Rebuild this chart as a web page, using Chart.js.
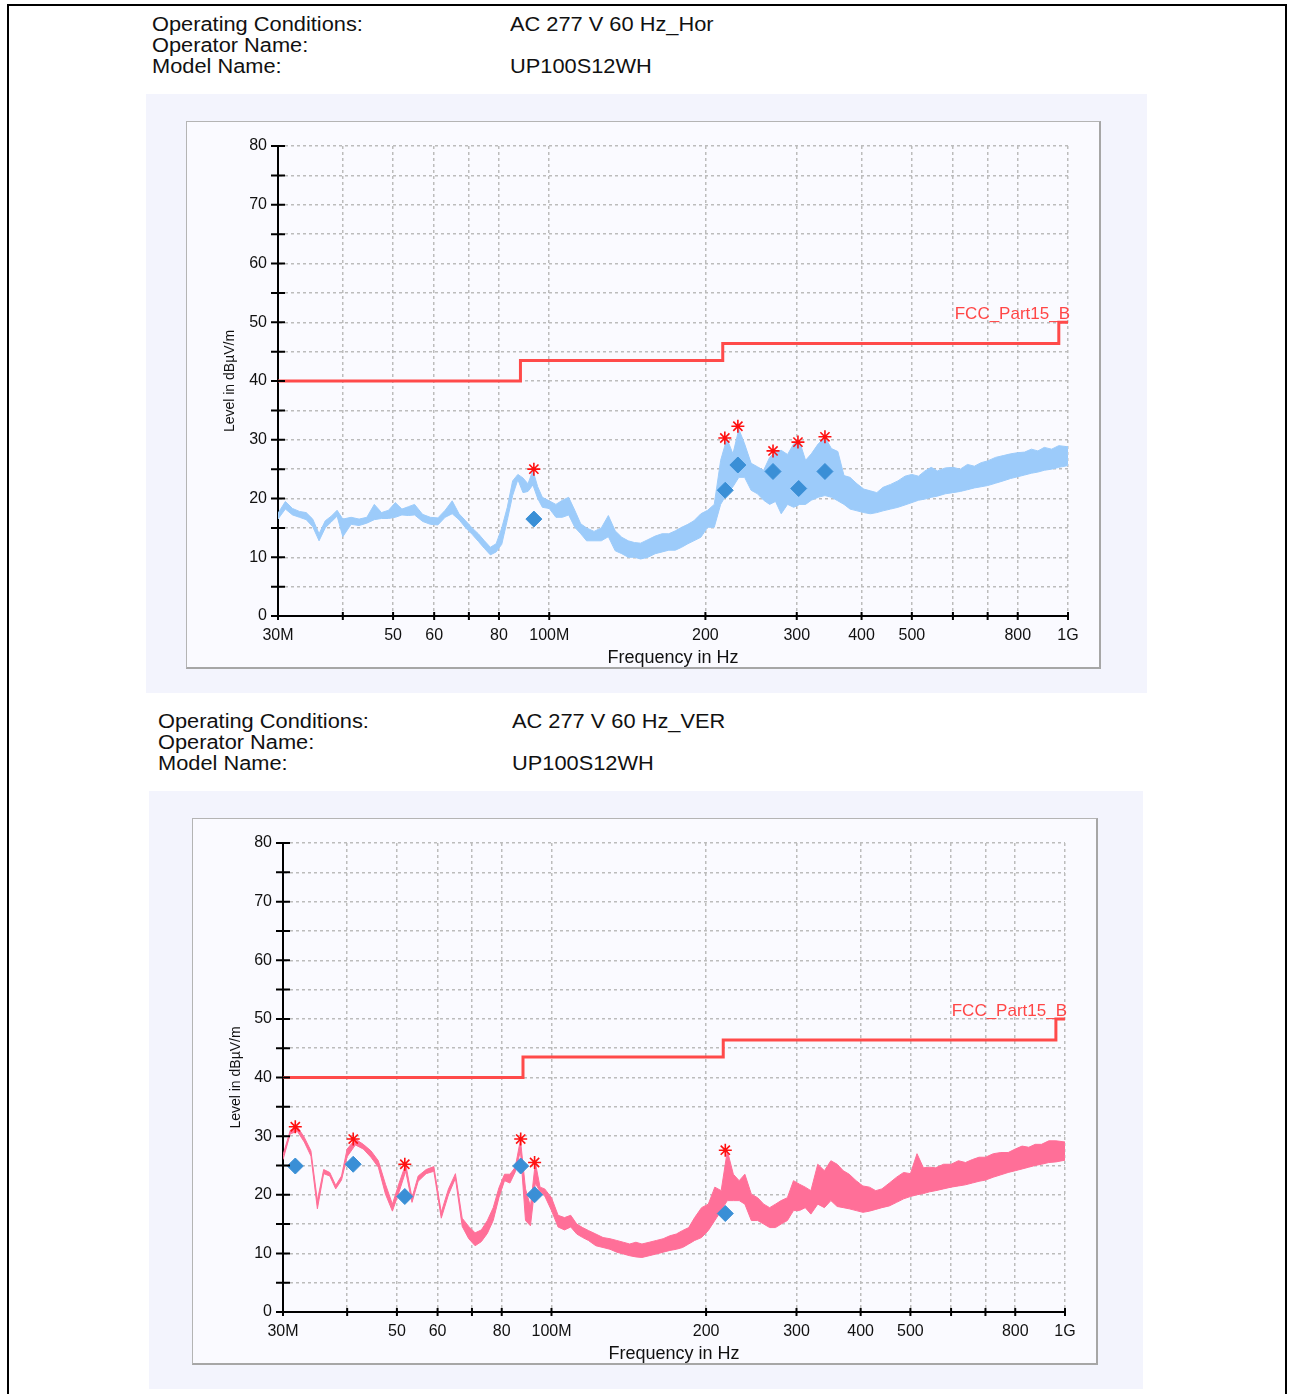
<!DOCTYPE html>
<html>
<head>
<meta charset="utf-8">
<script src="https://cdn.jsdelivr.net/npm/chart.js@4.4.1/dist/chart.umd.min.js"></script>
<style>
  body { margin:0; background:#fff; width:1289px; height:1394px; position:relative; overflow:hidden; font-family:"Liberation Sans", Arial, sans-serif; }
  .frame { position:absolute; left:7px; top:4px; width:1276px; height:1400px; border:2px solid #000; border-bottom:none; }
  .hdr { position:absolute; font-size:20px; line-height:21px; color:#111; transform:scaleX(1.09); transform-origin:left top; white-space:nowrap; }
  .panel { position:absolute; background:#f3f4fd; }
  .box { position:absolute; box-sizing:border-box; background:#fafaff; border:1px solid #b4b4b4; border-right:2px solid #a6a6a6; border-bottom:2px solid #a6a6a6; }
  canvas { position:absolute; }
</style>
</head>
<body>
<div class="frame"></div>

<div class="hdr" style="left:152px;top:14px">Operating Conditions:<br>Operator Name:<br>Model Name:</div>
<div class="hdr" style="left:510px;top:14px">AC 277 V 60 Hz_Hor<br><br>UP100S12WH</div>
<div class="panel" style="left:146px;top:94px;width:1001px;height:599px"></div>
<div class="box" style="left:186px;top:121px;width:915px;height:548px"></div>
<canvas id="hor" width="912" height="545" style="left:187px;top:122px"></canvas>

<div class="hdr" style="left:158px;top:711px">Operating Conditions:<br>Operator Name:<br>Model Name:</div>
<div class="hdr" style="left:512px;top:711px">AC 277 V 60 Hz_VER<br><br>UP100S12WH</div>
<div class="panel" style="left:149px;top:791px;width:994px;height:598px"></div>
<div class="box" style="left:192px;top:818px;width:906px;height:547px"></div>
<canvas id="ver" width="903" height="544" style="left:193px;top:819px"></canvas>

<script>
// frequency points of the scan (MHz)
const freqMHz = [30, 31, 32, 33, 34, 35, 36, 37, 38, 39, 40, 41.5, 43, 44.5, 46, 47.5, 49, 50.5, 52, 53.5,
  55, 57, 59, 61, 63, 65, 67, 69, 71, 73, 75, 77, 79, 81, 83, 85, 87, 89, 91, 93,
  95, 97, 100, 103, 106, 109, 112, 115, 118, 122, 126, 130, 134, 138, 142, 146, 150, 155, 160, 165,
  170, 175, 180, 185, 190, 196, 202, 208, 214, 220, 226, 232, 238, 245, 252, 259, 266, 273, 280, 288,
  296, 304, 312, 320, 330, 340, 350, 360, 370, 380, 392, 404, 416, 428, 440, 455, 470, 485, 500, 515,
  530, 545, 560, 580, 600, 620, 640, 660, 680, 700, 725, 750, 775, 800, 825, 850, 875, 900, 930, 960, 1000];

// horizontal scan, upper / lower edge of the trace (dBuV/m)
const horHi = [17.5, 19.5, 18.3, 17.8, 17.6, 16.5, 14, 16.2, 17, 18, 16.5, 16.8, 16.5, 16.8, 19, 17.6, 18, 19.3, 18.2, 18.6,
  19, 17.3, 16.8, 16.7, 18, 19.6, 17.4, 16.2, 15, 14, 12.8, 11.7, 12.3, 15, 18.5, 23, 24.1, 23.5, 22.5, 24.8,
  22, 20.2, 19.6, 19, 19.7, 20.2, 18, 15.7, 15, 14.4, 15, 17.1, 14.5, 13.4, 12.8, 12.5, 12.4, 13, 13.6, 14,
  14, 14.5, 15.1, 15.6, 16.2, 17.4, 18, 19, 26.5, 30.2, 27.6, 31.8, 29.3, 26, 25.4, 24.8, 27, 28, 28.2, 27.5,
  29.3, 29.6, 26.5, 27.6, 29.3, 30.4, 28.5, 28, 23.9, 23.6, 22.5, 21.6, 21.3, 21, 21.9, 22.4, 23, 23.8, 24.1, 23.8,
  24.7, 25.3, 24.7, 25.2, 25.3, 25, 25.8, 25.5, 26.1, 26.4, 27, 27.3, 27.6, 27.8, 27.9, 28.4, 28.1, 28.7, 28.4, 29, 28.8];
const horLo = [16.5, 18.2, 17.2, 16.8, 16.4, 15.2, 12.8, 15, 16, 17, 13.5, 15.6, 15.4, 15.8, 16.4, 16.6, 16.6, 16.8, 17.2, 17.1,
  17.2, 16.1, 15.6, 15.5, 16.8, 17.4, 16.4, 15, 13.9, 12.7, 11.5, 10.4, 10.9, 12.2, 16.3, 20.5, 23.2, 21, 21.2, 22.3,
  20, 18.5, 18.3, 16.8, 16.8, 17.2, 15.1, 14, 12.8, 12.8, 12.8, 13.5, 11.1, 10.6, 10, 10, 9.7, 10, 10.6, 10.9,
  11.2, 11.2, 11.7, 12.3, 12.8, 13.4, 15.1, 15.1, 19, 20.8, 22, 23.6, 23.6, 21.4, 20.8, 19.7, 19, 19.5, 17.4, 19,
  18.5, 19, 19, 19.7, 20.2, 20.5, 20.2, 19.6, 19, 18.2, 17.9, 17.6, 17.4, 17.6, 17.9, 18.2, 18.5, 18.9, 19.3, 19.7,
  19.9, 20.2, 20.4, 20.8, 21, 21.2, 21.5, 21.8, 22, 22.2, 22.6, 23, 23.4, 23.7, 24, 24.3, 24.5, 24.8, 25, 25.3, 25.6];

// vertical scan, upper / lower edge of the trace (dBuV/m)
const verHi = [26.8, 31, 31.6, 29.8, 27.5, 19, 24.3, 23.8, 21.6, 23.2, 27.8, 29.5, 28.6, 27.5, 25.8, 21.8, 18.4, 22, 25.2, 19.5,
  23.2, 24.3, 24.8, 17, 21, 23.6, 16, 14.6, 13.5, 14, 15.6, 17.8, 21.2, 23.5, 23.5, 24.7, 29.4, 21, 18, 25.5,
  21.3, 21, 19.5, 16.5, 16.1, 16.5, 15, 14.4, 13.9, 13.3, 12.7, 12.5, 12.2, 11.9, 11.6, 11.9, 11.6, 11.9, 12.2, 12.5,
  13, 13.3, 13.9, 14.4, 16.1, 17.8, 18.4, 21.3, 20.7, 27.5, 23.5, 22.4, 23.5, 20.1, 19.5, 18.4, 17.8, 18.4, 19, 19.5,
  22.4, 21.8, 21.3, 20.7, 25.2, 24.1, 25.8, 25.2, 24.1, 23.5, 22.4, 21.5, 21.3, 20.7, 21, 22, 23, 23.8, 23.6, 27,
  24.6, 24.7, 24.6, 25.2, 25.2, 25.8, 25.5, 26, 26.4, 26.4, 27, 27.2, 27.2, 27.8, 28.3, 28.1, 28.6, 28.6, 29.2, 29.2, 29];
const verLo = [26, 30.4, 30.8, 29, 26.6, 17.6, 23.6, 23.2, 21, 22.5, 26.5, 28.5, 27.8, 26.4, 24.7, 20.1, 17.2, 20.5, 24, 18.7,
  22.3, 23.6, 24, 16, 20, 22.8, 14.6, 12.5, 11.3, 12, 13.4, 15.6, 19.5, 22.4, 22, 23.9, 27.5, 15.6, 14.7, 22,
  20.5, 19.8, 17.3, 14.5, 14, 14.5, 13.3, 12.7, 12.2, 11.3, 11, 10.7, 10.2, 9.9, 9.6, 9.4, 9.3, 9.6, 9.9, 10.2,
  10.5, 10.7, 11, 11.6, 12.2, 12.7, 13.9, 15.6, 17.3, 19, 19, 19, 18.4, 15.6, 15.6, 15, 14.4, 14.4, 15, 15.6,
  17.3, 17.3, 17.8, 16.7, 18.4, 17.8, 19, 18, 17.8, 17.6, 17.3, 17, 17.2, 17.5, 17.8, 18.1, 18.7, 19.3, 19.7, 20,
  20.2, 20.5, 20.7, 21, 21.3, 21.5, 21.7, 22, 22.3, 22.5, 23, 23.4, 23.8, 24.1, 24.4, 24.7, 25, 25.2, 25.5, 25.6, 25.9];

// peak (*) and quasi-peak (diamond) readings
const horPeakFreq = [93.4, 218, 231, 270, 301.6, 340];
const horPeakLevel = [25, 30.3, 32.3, 28.1, 29.6, 30.5];
const horQpFreq = [93.4, 218.4, 231, 270, 302.6, 340];
const horQpLevel = [16.5, 21.4, 25.7, 24.6, 21.7, 24.6];
const verPeakFreq = [31.7, 41.1, 51.8, 87.1, 92.7, 218];
const verPeakLevel = [31.6, 29.5, 25.2, 29.5, 25.5, 27.6];
const verQpFreq = [31.7, 41.1, 51.8, 87.1, 92.7, 218];
const verQpLevel = [24.9, 25.2, 19.7, 24.9, 20, 16.8];

// FCC Part 15 B limit line
const limitFreq = [30, 88, 88, 216, 216, 960, 960, 1000];
const limitLevel = [40, 40, 43.5, 43.5, 46.4, 46.4, 50, 50];

const xTickValues = [30, 40, 50, 60, 70, 80, 100, 200, 300, 400, 500, 600, 700, 800, 1000];
const xTickLabels = ['30M', '', '50', '60', '', '80', '100M', '200', '300', '400', '500', '', '', '800', '1G'];

const FONT = '"Liberation Sans", Arial, sans-serif';
Chart.defaults.font.family = FONT;

const pts = (xs, ys) => xs.map((x, i) => ({ x: x, y: ys[i] }));

const axisTicks = {
  id: 'axisTicks',
  afterDraw(chart) {
    const { ctx, chartArea: a, scales: { x, y } } = chart;
    ctx.save();
    ctx.strokeStyle = '#000';
    ctx.lineWidth = 2;
    ctx.beginPath();
    y.ticks.forEach((t, i) => { const py = y.getPixelForTick(i); ctx.moveTo(a.left - 7, py); ctx.lineTo(a.left + 7, py); });
    x.ticks.forEach((t, i) => { const px = x.getPixelForTick(i); ctx.moveTo(px, a.bottom - 4); ctx.lineTo(px, a.bottom + 4); });
    ctx.stroke();
    ctx.restore();
  }
};

const limitLabel = {
  id: 'limitLabel',
  afterDatasetsDraw(chart) {
    const { ctx, chartArea: a, scales: { y } } = chart;
    ctx.save();
    ctx.font = '17px ' + FONT;
    ctx.fillStyle = '#ff4646';
    ctx.textAlign = 'right';
    ctx.textBaseline = 'bottom';
    ctx.fillText('FCC_Part15_B', a.right + 2, y.getPixelForValue(limitLevel[limitLevel.length - 1]) + 1);
    ctx.restore();
  }
};

function makeChart(id, hi, lo, color, peakF, peakL, qpF, qpL, pad) {
  const grid = { color: '#bcbcbc', lineWidth: 1.5, drawTicks: false };
  const border = { display: true, color: '#000', width: 2, dash: [3, 3] };
  return new Chart(document.getElementById(id), {
    type: 'line',
    data: {
      datasets: [
        { data: pts(peakF, peakL), showLine: false, pointStyle: 'star', pointRadius: 6.5, borderColor: '#ff1010', backgroundColor: '#ff1010', borderWidth: 1.6 },
        { data: pts(qpF, qpL), showLine: false, pointStyle: 'rectRot', pointRadius: 8, borderColor: '#3a8fd6', backgroundColor: '#3a8fd6', borderWidth: 1 },
        { data: pts(limitFreq, limitLevel), borderColor: '#ff4a4a', borderWidth: 3, pointRadius: 0, fill: false },
        { data: pts(freqMHz, hi), borderColor: color, backgroundColor: color, borderWidth: 1, pointRadius: 0, fill: '+1' },
        { data: pts(freqMHz, lo), borderColor: color, borderWidth: 1, pointRadius: 0, fill: false }
      ]
    },
    options: {
      responsive: false,
      animation: false,
      devicePixelRatio: 1,
      layout: { padding: { left: 0, top: pad.top, right: pad.right, bottom: 0 } },
      plugins: { legend: { display: false }, tooltip: { enabled: false } },
      scales: {
        x: {
          type: 'logarithmic', min: 30, max: 1000,
          afterBuildTicks: s => { s.ticks = xTickValues.map(v => ({ value: v })); },
          afterFit: s => { s.height = pad.bottom; },
          ticks: {
            autoSkip: false, maxRotation: 0, padding: 10, color: '#111', font: { size: 16 },
            callback: v => { const i = xTickValues.indexOf(v); return i < 0 ? '' : xTickLabels[i]; }
          },
          grid: grid,
          border: border,
          title: { display: true, text: 'Frequency in Hz', color: '#111', font: { size: 18, lineHeight: 1 }, padding: { top: 0, bottom: 0 } }
        },
        y: {
          min: 0, max: 80,
          afterFit: s => { s.width = pad.left; },
          ticks: { stepSize: 5, padding: 11, color: '#111', font: { size: 16 }, callback: v => (v % 10 === 0 ? v : '') },
          grid: grid,
          border: border,
          title: { display: true, text: 'Level in dBµV/m', color: '#111', font: { size: 14 }, padding: { top: 35, bottom: 0 } }
        }
      }
    },
    plugins: [axisTicks, limitLabel]
  });
}

makeChart('hor', horHi, horLo, '#9ccbfa', horPeakFreq, horPeakLevel, horQpFreq, horQpLevel, { left: 91, top: 24, right: 31, bottom: 51 });
makeChart('ver', verHi, verLo, '#ff6f98', verPeakFreq, verPeakLevel, verQpFreq, verQpLevel, { left: 90, top: 24, right: 31, bottom: 51 });
</script>
</body>
</html>
